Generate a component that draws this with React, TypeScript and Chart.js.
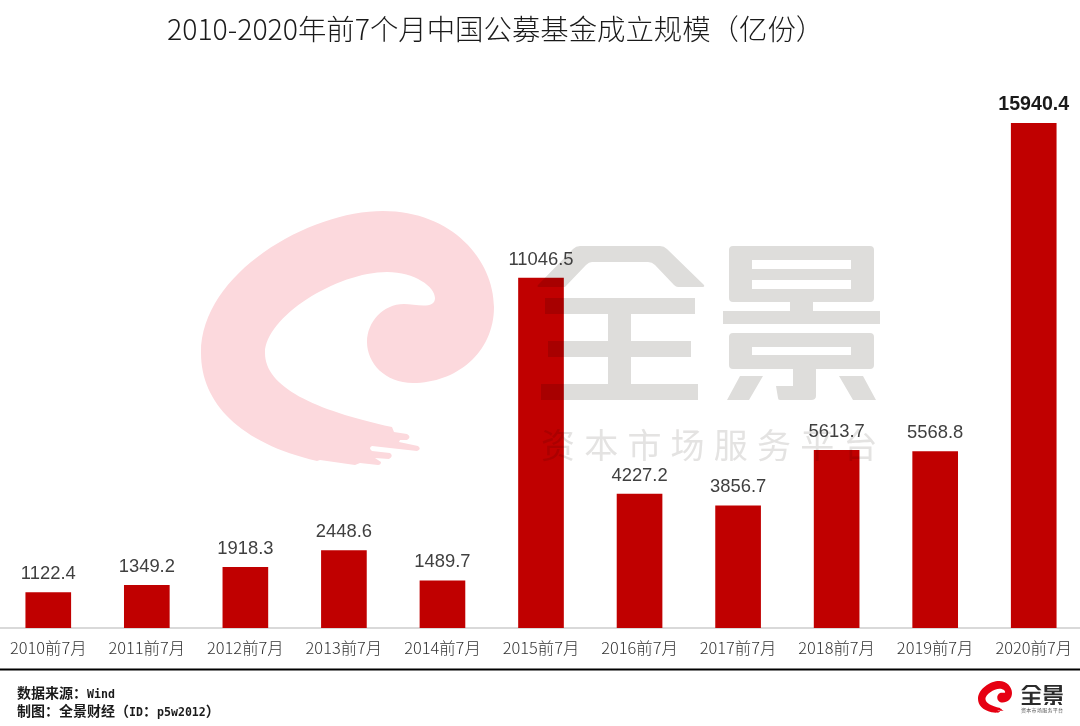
import { useEffect, useRef } from 'react';
import { Chart, registerables } from 'chart.js';

Chart.register(...registerables);

const TITLE = '2010-2020年前7个月中国公募基金成立规模（亿份）';
const categories = ['2010前7月', '2011前7月', '2012前7月', '2013前7月', '2014前7月', '2015前7月', '2016前7月', '2017前7月', '2018前7月', '2019前7月', '2020前7月'];
const values = [1122.4, 1349.2, 1918.3, 2448.6, 1489.7, 11046.5, 4227.2, 3856.7, 5613.7, 5568.8, 15940.4];

const CJK = '"Noto Sans CJK SC"';
const BAR_RED = '#c00000';

// logo outlines, in px of the big watermark
const swirl = 'M 317 461 C 240 443 201 403 201 353 C 201 273 309 211 383 211 C 452 211 494 260 494 307 C 494 353 456 383 413 383 C 385 383 367 363 367 342 C 367 322 383 304 404 304 C 415 304 435 310 435 298 C 435 287 415 272 387 272 C 337 272 265 317 265 353 C 265 387 314 410 392 427 L 394 432 L 407 434 Q 412 437 407 440 L 400 440 L 399 442 L 418 446 Q 422 449 417 451 L 372 446 Q 368 448 372 451 L 390 453 Q 394 456 389 459 L 375 458 L 381 462 Q 381 465 378 465 L 360 463 L 355 465 L 320 460 Z';
const quan = 'M 580 246 H 660 Q 664 246 667 249 L 704 285 Q 705 287 702 287 H 678 Q 676 287 674 285 L 655 265 Q 652 262 648 262 H 592 Q 589 262 586 265 L 565 287 H 540 Q 536 287 538 285 L 573 249 Q 576 246 580 246 Z M 545 298 H 695 V 314 H 631 V 341 H 691 V 357 H 631 V 384 H 698 V 400 H 541 V 384 H 608 V 357 H 548 V 341 H 608 V 314 H 545 Z';
const jing = 'M 733 246 H 870 Q 874 246 874 250 V 298 Q 874 302 870 302 H 813 V 311 H 880 V 324 H 723 V 311 H 790 V 302 H 733 Q 729 302 729 298 V 250 Q 729 246 733 246 Z M 752 260 V 269 H 851 V 260 Z M 752 280 V 289 H 851 V 280 Z M 733 333 H 870 Q 874 333 874 337 V 365 Q 874 369 870 369 H 816 V 396 Q 816 400 811 400 H 780 Q 778 400 778 398 L 776 386 H 793 V 369 H 733 Q 729 369 729 365 V 337 Q 729 333 733 333 Z M 752 347 V 355 H 851 V 347 Z M 740 376 H 763 L 749 400 H 727 Z M 839 376 H 863 L 876 400 H 853 Z';

// canvas sits 1px left of the page so the bars land where they should
const SHIFT = 1;

const page = {
  id: 'page',
  afterDatasetsDraw(chart: Chart) {
    const { ctx } = chart;
    ctx.save();
    ctx.translate(SHIFT, 0);
    ctx.globalCompositeOperation = 'multiply';
    ctx.fillStyle = '#fcd9dd';
    ctx.fill(new Path2D(swirl));
    ctx.fillStyle = '#dedddb';
    ctx.fill(new Path2D(quan), 'evenodd');
    ctx.fill(new Path2D(jing), 'evenodd');
    ctx.fillStyle = '#e4e3e2';
    ctx.font = `34px ${CJK}`;
    ctx.textBaseline = 'alphabetic';
    '资本市场服务平台'.split('').forEach((c, i) => ctx.fillText(c, 541 + i * 43.2, 458));
    ctx.restore();
  },
  afterDraw(chart: Chart) {
    const { ctx } = chart;
    const bars = chart.getDatasetMeta(0).data;
    ctx.save();
    ctx.textAlign = 'center';
    ctx.textBaseline = 'alphabetic';
    bars.forEach((bar, i) => {
      const last = i === values.length - 1;
      ctx.font = last ? 'bold 19.6px "Liberation Sans"' : '18.4px "Liberation Sans"';
      ctx.fillStyle = last ? '#1a1a1a' : '#404040';
      ctx.fillText(values[i].toFixed(1), bar.x, bar.y - 13.5);
    });

    ctx.translate(SHIFT, 0);
    ctx.textAlign = 'left';
    ctx.fillStyle = '#1a1a1a';
    ctx.font = `300 28.4px ${CJK}`;
    ctx.fillText(TITLE, 167, 40);

    ctx.fillStyle = '#000';
    ctx.fillRect(0, 668.5, 1080, 2);

    // source lines: CJK runs and mono runs have different sizes
    const run = (parts: [string, boolean][], x: number, y: number) => {
      ctx.fillStyle = '#1a1a1a';
      parts.forEach(([s, mono]) => {
        ctx.font = mono ? 'bold 11.6px "DejaVu Sans Mono"' : `bold 14px ${CJK}`;
        ctx.fillText(s, x, y);
        x += ctx.measureText(s).width;
      });
    };
    run([['数据来源：', false], ['Wind', true]], 17, 698);
    run([['制图：全景财经（', false], ['ID', true], ['：', false], ['p5w2012', true], ['）', false]], 17, 716);

    // small logo, bottom right
    ctx.save();
    ctx.translate(978, 681);
    ctx.scale(34 / 293, 32 / 255);
    ctx.translate(-201, -211);
    ctx.fillStyle = '#e60012';
    ctx.fill(new Path2D(swirl));
    ctx.restore();
    ctx.save();
    ctx.translate(1021, 685);
    ctx.scale(42 / 348, 20 / 154);
    ctx.translate(-535, -246);
    ctx.fillStyle = '#2b2b2b';
    ctx.fill(new Path2D(quan), 'evenodd');
    ctx.fill(new Path2D(jing), 'evenodd');
    ctx.restore();
    ctx.fillStyle = '#555';
    ctx.font = `5px ${CJK}`;
    '资本市场服务平台'.split('').forEach((c, i) => ctx.fillText(c, 1021 + i * 5.3, 712));
    ctx.restore();
  },
};

export default function App() {
  const canvasRef = useRef<HTMLCanvasElement | null>(null);
  useEffect(() => {
    if (!canvasRef.current) return;
    const chart = new Chart(canvasRef.current, {
      type: 'bar',
      data: {
        labels: categories,
        datasets: [{ data: values, backgroundColor: BAR_RED, barThickness: 45 }],
      },
      options: {
        animation: false,
        responsive: false,
        layout: { padding: { top: 58, left: 0, right: 0, bottom: 0 } },
        plugins: { legend: { display: false }, tooltip: { enabled: false } },
        scales: {
          x: {
            grid: { display: false },
            border: { color: '#d9d9d9', width: 2 },
            ticks: { color: '#333333', font: { family: CJK, size: 16.4, weight: '300' }, padding: 2, maxRotation: 0, autoSkip: false },
            afterFit(scale: any) { scale.height = 98; },
          },
          y: { display: false, min: 0, max: 18000 },
        },
      },
      plugins: [page],
    });
    return () => chart.destroy();
  }, []);

  return (
    <div style={{ position: 'fixed', left: 0, top: 0, width: 1080, height: 726, overflow: 'hidden' }}>
      <canvas ref={canvasRef} width={1084} height={726} style={{ position: 'absolute', left: -SHIFT, top: 0 }} />
    </div>
  );
}
